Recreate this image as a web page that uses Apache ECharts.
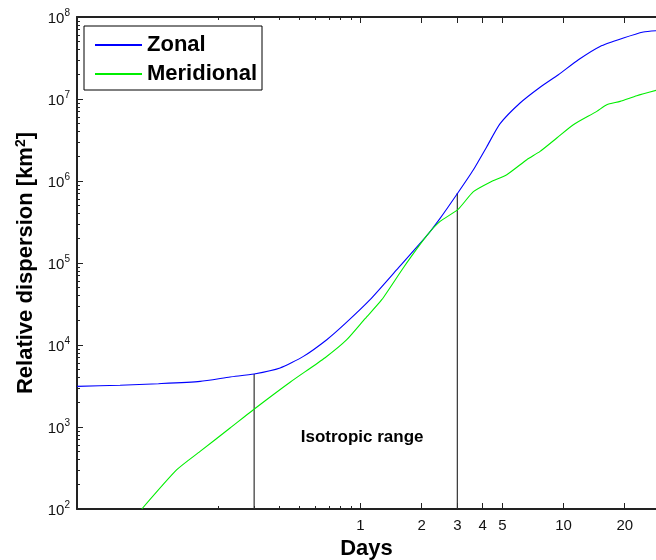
<!DOCTYPE html>
<html><head><meta charset="utf-8">
<script src="https://cdn.jsdelivr.net/npm/echarts@6/dist/echarts.min.js"></script>
<style>html,body{margin:0;padding:0;background:#fff}#c{width:656px;height:560px}</style>
</head><body><div id="c"></div>
<script>
// ---- data (real units) ----
const xMin = 0.0403, xMax = 28.5;          // days
const yMinExp = 2, yMaxExp = 8;            // 10^2 .. 10^8 km^2
const xTickValues = [1, 2, 3, 4, 5, 10, 20];
const xMinorTickValues = [0.2, 0.3, 0.4, 0.5, 0.6, 0.7, 0.8, 0.9];
const yMinorMultipliers = [2, 3, 4, 5, 6, 7, 8, 9];

const zonalDays = [0.04035, 0.06568, 0.1014, 0.1626, 0.2284, 0.2998, 0.4026, 0.5241, 0.6833, 0.8409, 1.116, 1.511, 2.122, 2.467, 3.015, 3.599, 4.188, 4.870, 6.107, 7.662, 9.428, 11.83, 15.12, 19.70, 24.70, 28.52];
const zonal     = [3127, 3234, 3373, 3598, 4072, 4430, 5243, 7261, 11600, 18190, 35680, 82840, 215300, 350000, 714100, 1.373e6, 2.62e6, 5.00e6, 8.94e6, 1.393e7, 1.979e7, 3.016e7, 4.38e7, 5.545e7, 6.565e7, 6.808e7];

const meridDays = [0.0840, 0.1249, 0.1626, 0.2284, 0.2974, 0.4508, 0.6703, 0.857, 1.0546, 1.274, 1.628, 2.122, 2.467, 3.015, 3.599, 4.347, 5.254, 6.591, 7.662, 9.259, 11.17, 14.57, 16.32, 18.97, 22.93, 28.52];
const meridional = [100, 301.5, 504, 972, 1626, 3518, 7000, 11600, 20930, 35680, 87650, 215300, 321600, 446700, 740500, 967000, 1.193e6, 1.819e6, 2.296e6, 3.345e6, 4.861e6, 7.062e6, 8.52e6, 9.35e6, 1.097e7, 1.273e7];

const isoDays = [0.3, 3];
const isoTop = [4430, 714100];
const isoLabel = 'Isotropic range';
const isoLabelDays = 1.02, isoLabelValue = 740;

const seriesNames = ['Zonal', 'Meridional'];
const xTitle = 'Days';
const yTitle = 'Relative dispersion [km{s|2}]';

// ---- build ----
const L = Math.log10;
const FONT = 'Liberation Sans, Arial, sans-serif';
const AX = '#222';
const yMinor = [];
for (let e = yMinExp; e < yMaxExp; e++) yMinorMultipliers.forEach(m => yMinor.push(L(m) + e));

const toPts = (xs, ys) => xs.map((x, i) => [L(x), L(ys[i])]);

function xAxisBase(extra) {
  return Object.assign({
    type: 'value', min: L(xMin), max: L(xMax),
    splitLine: { show: false },
    axisLine: { show: false, onZero: false },
    axisLabel: { show: false },
    axisTick: { show: false }
  }, extra);
}
function yAxisBase(extra) {
  return Object.assign({
    type: 'value', min: yMinExp, max: yMaxExp, interval: 1,
    splitLine: { show: false },
    axisLine: { show: false, onZero: false },
    axisLabel: { show: false },
    axisTick: { show: false }
  }, extra);
}

const chart = echarts.init(document.getElementById('c'), null, { renderer: 'canvas' });
chart.setOption({
  animation: false,
  backgroundColor: '#fff',
  textStyle: { fontFamily: FONT },
  grid: { left: 77, right: 0, top: 17, bottom: 51, containLabel: false, outerBoundsMode: 'none' },
  legend: {
    data: seriesNames, orient: 'vertical', left: 84, top: 26,
    backgroundColor: '#fff', borderColor: '#000', borderWidth: 1,
    padding: [8, 5, 5, 10], itemGap: 7, itemWidth: 47, itemHeight: 14,
    itemStyle: { opacity: 0 },
    textStyle: { fontSize: 22, fontWeight: 'bold', color: '#000', fontFamily: FONT }
  },
  xAxis: [
    xAxisBase({
      position: 'bottom', name: xTitle, nameLocation: 'middle', nameGap: 26,
      nameTextStyle: { fontSize: 22, fontWeight: 'bold', color: '#000', fontFamily: FONT },
      axisLine: { show: true, onZero: false, lineStyle: { color: AX, width: 2 } },
      axisTick: { show: true, inside: true, length: 6, lineStyle: { color: AX }, customValues: xTickValues.map(L) },
      axisLabel: { show: true, margin: 9, fontSize: 15, color: '#111', fontFamily: FONT,
        customValues: xTickValues.map(L), formatter: v => String(Math.round(Math.pow(10, v))) }
    }),
    xAxisBase({
      position: 'bottom',
      axisTick: { show: true, inside: true, length: 3, lineStyle: { color: AX }, customValues: xMinorTickValues.map(L) }
    }),
    xAxisBase({
      position: 'top',
      axisLine: { show: true, onZero: false, lineStyle: { color: AX, width: 2 } },
      axisTick: { show: true, inside: true, length: 6, lineStyle: { color: AX }, customValues: xTickValues.map(L) }
    }),
    xAxisBase({
      position: 'top',
      axisTick: { show: true, inside: true, length: 3, lineStyle: { color: AX }, customValues: xMinorTickValues.map(L) }
    })
  ],
  yAxis: [
    yAxisBase({
      position: 'left', name: yTitle, nameLocation: 'middle', nameGap: 36,
      nameTextStyle: { fontSize: 22, fontWeight: 'bold', color: '#000', fontFamily: FONT,
        rich: { s: { fontSize: 14, fontWeight: 'bold', verticalAlign: 'bottom', padding: [0, 0, 9, 0], color: '#000' } } },
      axisLine: { show: true, onZero: false, lineStyle: { color: AX, width: 2 } },
      axisTick: { show: true, inside: true, length: 6, lineStyle: { color: AX } },
      axisLabel: { show: true, margin: 7, color: '#111', fontFamily: FONT,
        formatter: v => '{a|10}{s|' + Math.round(v) + '}',
        rich: {
          a: { fontSize: 15, color: '#111', fontFamily: FONT, verticalAlign: 'bottom' },
          s: { fontSize: 10, color: '#111', fontFamily: FONT, verticalAlign: 'bottom', padding: [0, 0, 8, 0] }
        } }
    }),
    yAxisBase({
      position: 'left',
      axisTick: { show: true, inside: true, length: 3, lineStyle: { color: AX }, customValues: yMinor }
    })
  ],
  series: [
    { name: seriesNames[0], type: 'line', data: toPts(zonalDays, zonal), symbol: 'none', smooth: 0.2,
      lineStyle: { color: '#0000ff', width: 1.1 }, itemStyle: { color: '#0000ff' }, z: 3 },
    { name: seriesNames[1], type: 'line', data: toPts(meridDays, meridional), symbol: 'none', smooth: 0.2,
      lineStyle: { color: '#00ee00', width: 1.1 }, itemStyle: { color: '#00ee00' }, z: 3 },
    ...isoDays.map((d, i) => ({
      type: 'line', data: [[L(d), yMinExp], [L(d), L(isoTop[i])]], symbol: 'none',
      lineStyle: { color: '#333', width: 1.2 }, z: 2, silent: true
    })),
    { type: 'scatter', data: [[L(isoLabelDays), L(isoLabelValue)]], symbolSize: 0, silent: true,
      itemStyle: { opacity: 1 },
      label: { show: true, position: 'inside', formatter: isoLabel, fontSize: 17, fontWeight: 'bold',
        color: '#000', textBorderWidth: 0, fontFamily: FONT } }
  ]
});
</script></body></html>
